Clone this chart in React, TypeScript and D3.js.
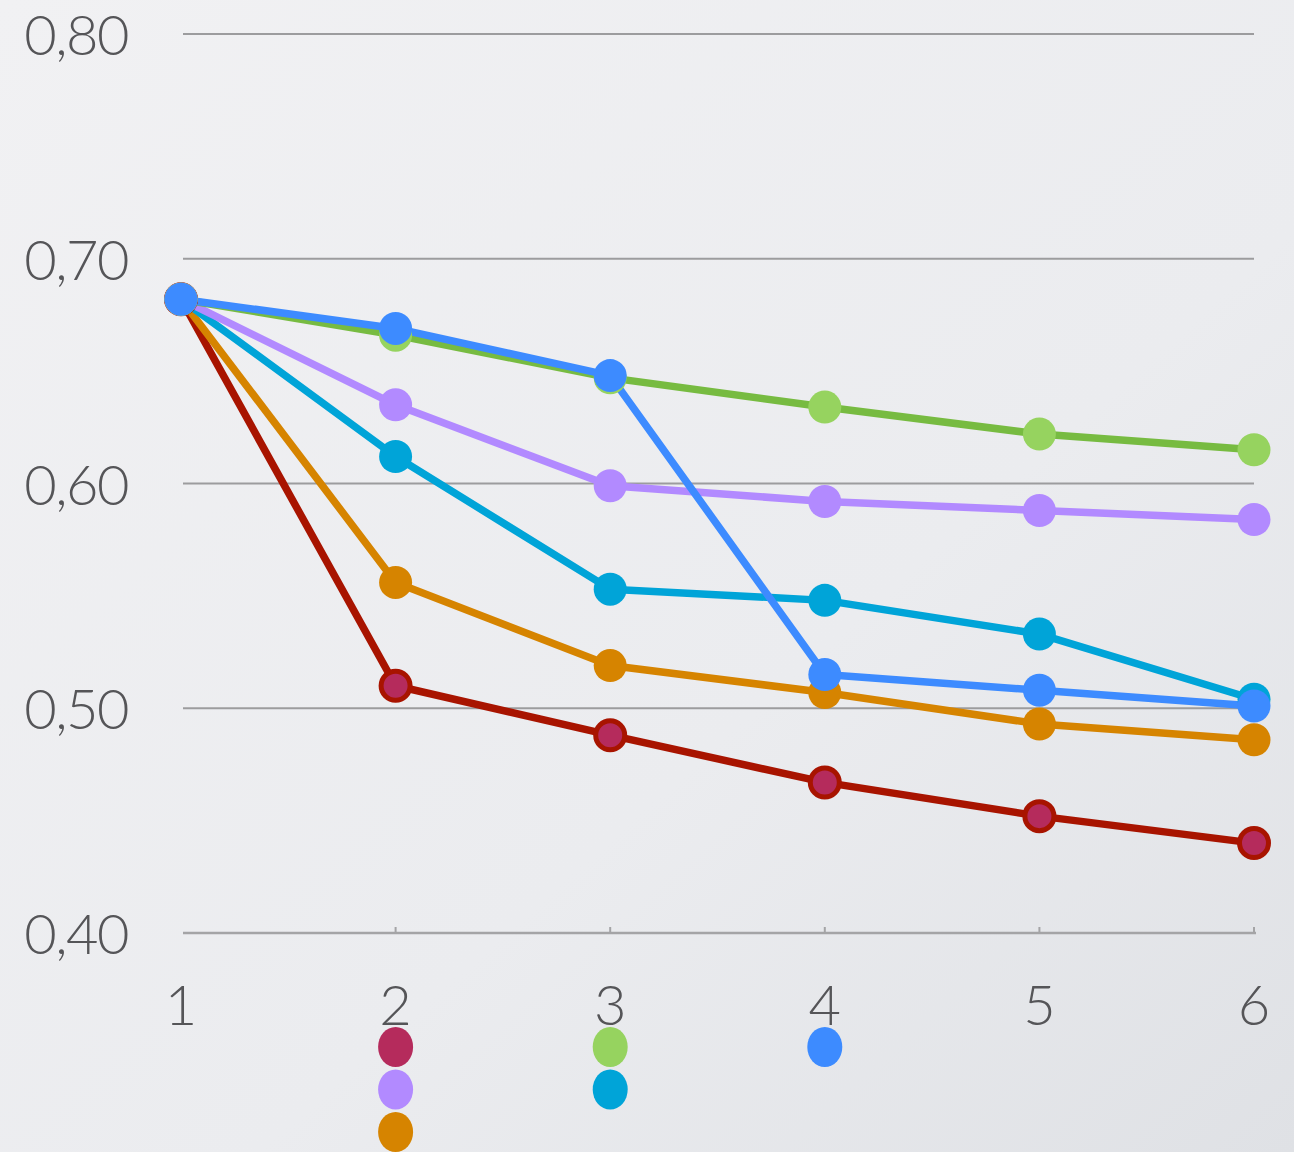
import React from "react";
import * as d3 from "d3";

// Categories on the x axis
const categories = [1, 2, 3, 4, 5, 6];
const xTickLabels = ["1", "2", "3", "4", "5", "6"];
const yTicks = [0.4, 0.5, 0.6, 0.7, 0.8];

// Series values
const redValues = [0.682, 0.51, 0.488, 0.467, 0.452, 0.44];
const orangeValues = [0.682, 0.556, 0.519, 0.507, 0.493, 0.486];
const cyanValues = [0.682, 0.612, 0.553, 0.548, 0.533, 0.504];
const purpleValues = [0.682, 0.635, 0.599, 0.592, 0.588, 0.584];
const greenValues = [0.682, 0.666, 0.647, 0.634, 0.622, 0.615];
const blueValues = [0.682, 0.669, 0.648, 0.515, 0.508, 0.501];

type Series = {
  name: string;
  values: number[];
  line: string;
  fill: string;
  stroke?: string;
  legendCol: number;
  legendRow: number;
};

const series: Series[] = [
  { name: "red", values: redValues, line: "#a81400", fill: "#b52b5c", stroke: "#a81400", legendCol: 2, legendRow: 0 },
  { name: "orange", values: orangeValues, line: "#d68400", fill: "#d68400", legendCol: 2, legendRow: 2 },
  { name: "cyan", values: cyanValues, line: "#00a4d8", fill: "#00a4d8", legendCol: 3, legendRow: 1 },
  { name: "purple", values: purpleValues, line: "#b28aff", fill: "#b28aff", legendCol: 2, legendRow: 1 },
  { name: "green", values: greenValues, line: "#77bb41", fill: "#96d35f", legendCol: 3, legendRow: 0 },
  { name: "blue", values: blueValues, line: "#3d8bff", fill: "#3d8bff", legendCol: 4, legendRow: 0 },
];

const W = 1294;
const H = 1152;

export default function App() {
  const x = d3.scalePoint<number>().domain(categories).range([181, 1254]);
  const y = d3.scaleLinear().domain([0.4, 0.8]).range([933, 34]);
  const line = d3
    .line<number>()
    .x((_, i) => x(categories[i]) as number)
    .y((d) => y(d));

  const font = "Lato, 'Open Sans', sans-serif";

  return (
    <svg
      width={W}
      height={H}
      style={{ position: "absolute", left: 0, top: 0, display: "block" }}
    >
      <defs>
        <linearGradient id="bg" x1="0" y1="0" x2="1" y2="1">
          <stop offset="0" stopColor="#f1f1f3" />
          <stop offset="0.6" stopColor="#ebecef" />
          <stop offset="1" stopColor="#dfe1e5" />
        </linearGradient>
      </defs>
      <rect x={0} y={0} width={W} height={H} fill="url(#bg)" />

      {/* horizontal gridlines */}
      {yTicks.slice(1).map((t) => (
        <line
          key={t}
          x1={183}
          x2={1254}
          y1={y(t)}
          y2={y(t)}
          stroke="#9c9c9e"
          strokeWidth={2}
        />
      ))}

      {/* x axis baseline and ticks */}
      <line x1={183} x2={1256} y1={y(0.4)} y2={y(0.4)} stroke="#a4a4a6" strokeWidth={2.5} />
      {categories.slice(1).map((c) => (
        <line
          key={c}
          x1={x(c)}
          x2={x(c)}
          y1={y(0.4) - 6}
          y2={y(0.4)}
          stroke="#a4a4a6"
          strokeWidth={2}
        />
      ))}

      {/* y tick labels */}
      {yTicks.map((t) => (
        <text
          key={t}
          x={128}
          y={y(t) + 21}
          textAnchor="end"
          fontFamily={font}
          fontWeight={300}
          fontSize={56}
          letterSpacing={-1.5}
          fill="#555558"
        >
          {d3.format(".2f")(t).replace(".", ",")}
        </text>
      ))}

      {/* x tick labels */}
      {categories.map((c, i) => (
        <text
          key={c}
          x={x(c)}
          y={1025}
          textAnchor="middle"
          fontFamily={font}
          fontWeight={300}
          fontSize={56}
          fill="#555558"
        >
          {xTickLabels[i]}
        </text>
      ))}

      {/* series lines */}
      {series.map((s) => (
        <path
          key={s.name}
          d={line(s.values) || ""}
          fill="none"
          stroke={s.line}
          strokeWidth={7.5}
          strokeLinejoin="round"
        />
      ))}

      {/* series markers */}
      {series.map((s) => (
        <g key={s.name + "-pts"}>
          {s.values.map((v, i) => (
            <circle
              key={i}
              cx={x(categories[i]) as number}
              cy={y(v)}
              r={s.stroke ? 14.5 : 16.5}
              fill={s.fill}
              stroke={s.stroke || "none"}
              strokeWidth={s.stroke ? 5 : 0}
            />
          ))}
        </g>
      ))}

      {/* legend swatches */}
      {series.map((s) => (
        <ellipse
          key={s.name + "-legend"}
          cx={x(s.legendCol) as number}
          cy={1047 + s.legendRow * 42.5}
          rx={17.5}
          ry={20}
          fill={s.fill}
        />
      ))}
    </svg>
  );
}
